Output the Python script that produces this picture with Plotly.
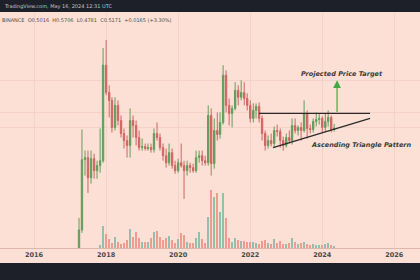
import math
import pandas as pd
import plotly.graph_objects as go

# ---------------- data (monthly XRP-like candles) ----------------
months = pd.date_range("2017-04-01", "2024-05-01", freq="MS")

open_ = [
    0.0309, 0.0501, 0.251, 0.263, 0.166, 0.257, 0.195, 0.219, 0.245,
    2.19, 1.17, 0.977, 0.525, 0.871, 0.617, 0.457, 0.389, 0.347, 0.617, 0.550, 0.417,
    0.331, 0.339, 0.324, 0.331, 0.316, 0.457, 0.417, 0.331, 0.275, 0.234, 0.295, 0.219,
    0.195, 0.234, 0.219, 0.195, 0.219, 0.209, 0.195, 0.263, 0.275, 0.245, 0.234, 0.692,
    0.229, 0.490, 0.447, 0.589, 1.74, 0.871, 0.724, 0.813, 1.23, 1.05, 1.17, 1.02,
    0.871, 0.646, 0.776, 0.851, 0.646, 0.457, 0.347, 0.389, 0.363, 0.490, 0.479, 0.389,
    0.347, 0.417, 0.389, 0.550, 0.490, 0.525, 0.490, 0.724, 0.513, 0.501, 0.603, 0.631,
    0.646, 0.525, 0.603, 0.661, 0.5016,
]
high = [
    0.0661, 0.501, 0.309, 0.309, 0.309, 0.288, 0.245, 0.513, 3.24,
    3.89, 1.38, 1.05, 1.05, 0.977, 0.692, 0.513, 0.437, 0.813, 0.692, 0.617, 0.490,
    0.407, 0.363, 0.363, 0.363, 0.513, 0.589, 0.457, 0.363, 0.324, 0.363, 0.324, 0.245,
    0.257, 0.363, 0.245, 0.245, 0.234, 0.229, 0.309, 0.309, 0.309, 0.275, 0.871, 0.813,
    0.646, 0.741, 0.741, 2.19, 1.95, 1.02, 0.871, 1.48, 1.38, 1.55, 1.48, 1.15,
    0.977, 0.912, 0.912, 0.933, 0.692, 0.490, 0.437, 0.457, 0.537, 0.562, 0.513, 0.427,
    0.457, 0.490, 0.646, 0.646, 0.550, 0.589, 0.977, 0.776, 0.562, 0.646, 0.741, 0.724,
    0.676, 0.724, 0.776, 0.692, 0.5706,
]
low = [
    0.0295, 0.0468, 0.174, 0.117, 0.145, 0.162, 0.162, 0.186, 0.234,
    1.10, 0.661, 0.468, 0.490, 0.550, 0.417, 0.324, 0.263, 0.263, 0.417, 0.347, 0.309,
    0.309, 0.309, 0.309, 0.295, 0.295, 0.389, 0.309, 0.245, 0.209, 0.219, 0.204, 0.182,
    0.186, 0.209, 0.102, 0.174, 0.186, 0.186, 0.186, 0.234, 0.219, 0.219, 0.219, 0.174,
    0.204, 0.389, 0.407, 0.562, 0.741, 0.550, 0.525, 0.776, 0.871, 0.977, 0.871, 0.776,
    0.589, 0.589, 0.646, 0.589, 0.389, 0.309, 0.324, 0.339, 0.331, 0.427, 0.331, 0.309,
    0.331, 0.363, 0.355, 0.457, 0.437, 0.389, 0.468, 0.407, 0.457, 0.468, 0.537, 0.562,
    0.468, 0.479, 0.537, 0.468, 0.4781,
]
close = [
    0.0501, 0.251, 0.263, 0.166, 0.257, 0.195, 0.219, 0.245, 2.19,
    1.17, 0.977, 0.525, 0.871, 0.617, 0.457, 0.389, 0.347, 0.617, 0.550, 0.417, 0.331,
    0.339, 0.324, 0.331, 0.316, 0.457, 0.417, 0.331, 0.275, 0.234, 0.295, 0.219, 0.195,
    0.234, 0.219, 0.195, 0.219, 0.209, 0.195, 0.263, 0.275, 0.245, 0.234, 0.692, 0.229,
    0.490, 0.447, 0.589, 1.74, 0.871, 0.724, 0.813, 1.23, 1.05, 1.17, 1.02, 0.871,
    0.646, 0.776, 0.851, 0.646, 0.457, 0.347, 0.389, 0.363, 0.490, 0.479, 0.389, 0.347,
    0.417, 0.389, 0.550, 0.490, 0.525, 0.490, 0.724, 0.513, 0.501, 0.603, 0.631, 0.646,
    0.525, 0.603, 0.661, 0.5016, 0.5171,
]
# volume, billions
volume = [
    0, 0, 0, 0, 0, 0, 0, 0.75, 5.5,
    3.5, 2.25, 1.25, 2.75, 1.5, 1.0, 1.25, 2.0, 4.75, 2.75, 4.0, 2.5,
    1.5, 1.5, 1.5, 2.5, 4.0, 4.25, 2.75, 2.0, 2.5, 3.0, 2.0, 1.25,
    2.25, 3.75, 3.25, 1.5, 1.25, 1.25, 2.5, 4.0, 2.25, 1.25, 7.75, 14.5,
    12.75, 13.75, 9.0, 13.75, 7.5, 2.5, 1.5, 2.5, 2.0, 1.75, 1.75, 1.5,
    1.5, 1.5, 1.25, 1.0, 1.75, 2.0, 1.25, 1.0, 2.25, 1.25, 1.75, 1.0,
    1.0, 1.25, 2.5, 1.5, 1.0, 1.25, 1.5, 1.0, 0.75, 1.0, 0.75, 0.75,
    0.75, 1.0, 1.25, 0.75, 0.4,
]

year_ticks = ["2016-01-01", "2018-01-01", "2020-01-01", "2022-01-01", "2024-01-01", "2026-01-01"]
year_labels = ["2016", "2018", "2020", "2022", "2024", "2026"]
price_grid = [1.55, 0.741, 0.525]

resistance_level = 0.724
resistance_dates = ["2022-03-31", "2025-04-30"]
support_dates = ["2022-08-20", "2025-04-30"]
support_prices = [0.331, 0.646]
target_date = "2024-05-30"
target_price = 1.55
target_label_pos = ("2024-07-20", 1.78)
pattern_label_pos = ("2025-01-28", 0.355)

header_text = "BINANCE  O0.5016  H0.5706  L0.4781  C0.5171  +0.0165 (+3.30%)"
top_text = "TradingView.com, May 16, 2024 12:31 UTC"

# ---------------- styling ----------------
BG = "#fde0d5"
DARK = "#1e2029"
UP = "#5f9e5c"
DOWN = "#cf6563"
VUP = "#93bfae"
VDOWN = "#f09a90"
GRID = "#f5d2c7"

vol_colors = [VUP if c >= o else VDOWN for o, c in zip(open_, close)]

fig = go.Figure()
fig.add_trace(go.Bar(
    x=months, y=volume, yaxis="y2", marker_color=vol_colors, marker_line_width=0,
    width=23 * 86400000, showlegend=False, hoverinfo="skip",
))
fig.add_trace(go.Candlestick(
    x=months, open=open_, high=high, low=low, close=close,
    increasing=dict(line=dict(color=UP, width=1), fillcolor=UP),
    decreasing=dict(line=dict(color=DOWN, width=1), fillcolor=DOWN),
    showlegend=False, whiskerwidth=0,
))
# resistance and rising support lines
fig.add_trace(go.Scatter(x=resistance_dates, y=[resistance_level, resistance_level], mode="lines",
                         line=dict(color="#2a2a2a", width=1.3), showlegend=False, hoverinfo="skip"))
fig.add_trace(go.Scatter(x=support_dates, y=support_prices, mode="lines",
                         line=dict(color="#2a2a2a", width=1.3), showlegend=False, hoverinfo="skip"))

lo_log = -1.48
hi_log = 0.86

fig.update_layout(
    width=420, height=280,
    margin=dict(l=0, r=0, t=0, b=0),
    paper_bgcolor=BG, plot_bgcolor=BG,
    font=dict(family="DejaVu Sans", color="#444"),
    bargap=0,
    xaxis=dict(
        type="date", range=["2015-01-21", "2026-09-18"],
        tickvals=year_ticks, ticktext=year_labels,
        tickfont=dict(size=6.5, color="#4a4a4a", weight="bold"),
        showgrid=True, gridcolor=GRID, gridwidth=1,
        showline=True, linecolor="#dcb7ab", linewidth=1,
        ticks="", ticklen=0, rangeslider=dict(visible=False),
        zeroline=False, fixedrange=True,
    ),
    yaxis=dict(
        type="log", range=[lo_log, hi_log], domain=[32 / 280, 267 / 280],
        tickvals=price_grid, showticklabels=False, ticks="",
        showgrid=True, gridcolor=GRID, gridwidth=1, zeroline=False,
    ),
    yaxis2=dict(
        overlaying="y", range=[0, 58.75], showgrid=False, showticklabels=False,
        zeroline=False, ticks="",
    ),
    shapes=[
        dict(type="rect", xref="paper", yref="paper", x0=0, x1=1, y0=268 / 280, y1=1,
             fillcolor=DARK, line_width=0, layer="above"),
        dict(type="rect", xref="paper", yref="paper", x0=0, x1=1, y0=0, y1=17 / 280,
             fillcolor=DARK, line_width=0, layer="above"),
    ],
    annotations=[
        dict(xref="paper", yref="paper", x=0.005, y=1 - 6 / 280, text=top_text, showarrow=False,
             xanchor="left", yanchor="middle", font=dict(size=5, color="#c3c6ce")),
        dict(xref="paper", yref="paper", x=0.0, y=1 - 20 / 280, text=header_text, showarrow=False,
             xanchor="left", yanchor="middle", font=dict(size=5.0, color="#4d4d4d")),
        dict(x=target_date, y=math.log10(target_price), ax=target_date, ay=math.log10(resistance_level),
             xref="x", yref="y", axref="x", ayref="y", text="", showarrow=True,
             arrowhead=2, arrowsize=1.3, arrowwidth=1.2, arrowcolor="#43a843"),
        dict(x=target_label_pos[0], y=math.log10(target_label_pos[1]), xref="x", yref="y",
             text="<b><i>Projected Price Target</i></b>", showarrow=False,
             font=dict(size=6.5, color="#3a3a3a")),
        dict(x=pattern_label_pos[0], y=math.log10(pattern_label_pos[1]), xref="x", yref="y",
             text="<b><i>Ascending Triangle Pattern</i></b>", showarrow=False,
             font=dict(size=6.5, color="#3a3a3a")),
    ],
)

fig.write_html("out.html")
